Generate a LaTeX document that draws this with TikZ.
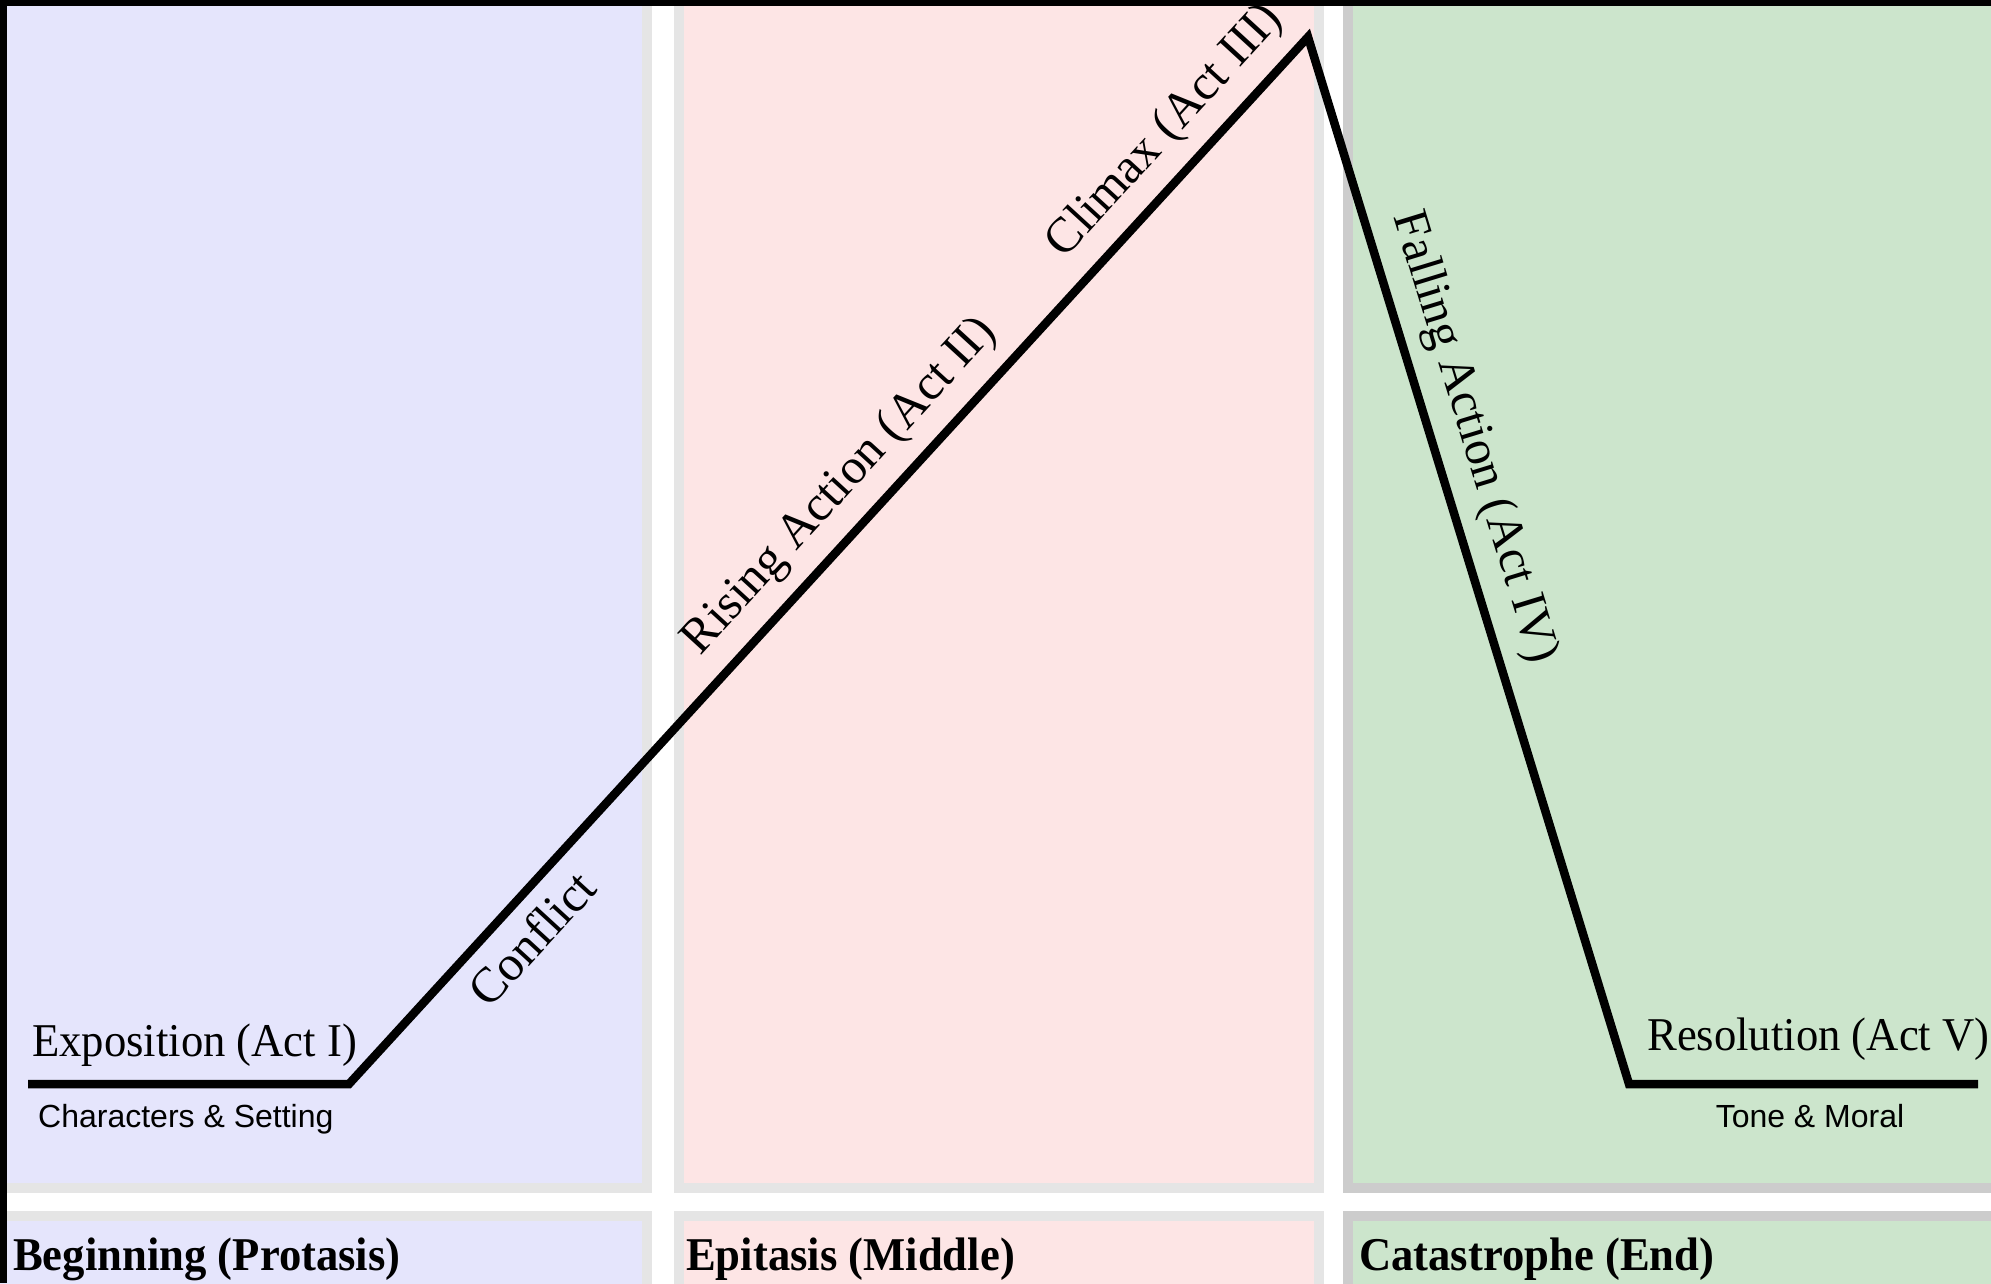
\documentclass[tikz,border=0pt]{standalone}
\usepackage{fontspec}
\setmainfont{Liberation Serif}[FakeStretch=0.95]
\newfontfamily\slopef{Liberation Serif}
\newfontfamily\sansf{Liberation Sans}
\definecolor{pblue}{HTML}{E5E5FC}
\definecolor{ppink}{HTML}{FDE5E5}
\definecolor{pgreen}{HTML}{CCE5CC}
\definecolor{gline}{HTML}{E5E5E5}
\definecolor{gdark}{HTML}{CCCCCC}
\tikzset{
  panel/.style={line width=10pt},
  stage/.style={font=\slopef\fontsize{49.5}{54}\selectfont, inner xsep=0pt, inner ysep=18.5pt},
  flat/.style={font=\fontsize{47}{52}\selectfont, inner sep=0pt},
  note/.style={font=\sansf\fontsize{32}{36}\selectfont, inner sep=0pt},
  ttl/.style={font=\bfseries\fontsize{47}{52}\selectfont, inner sep=0pt},
  arc/.style={line width=8.5pt, line join=miter, line cap=butt}
}
\begin{document}
\begin{tikzpicture}[x=1pt,y=1pt]
\clip (0,0) rectangle (1991,1283);
\fill[white] (0,0) rectangle (1991,1283);
% top row panels
\draw[panel, draw=gline, fill=pblue] (-20,95) rectangle (646.5,1303);
\draw[panel, draw=gline, fill=ppink] (678.5,95) rectangle (1319,1303);
\draw[panel, draw=gdark, fill=pgreen] (1348,95) rectangle (2020,1303);
% bottom row panels
\draw[panel, draw=gline, fill=pblue] (-20,-20) rectangle (646.5,67);
\draw[panel, draw=gline, fill=ppink] (678.5,-20) rectangle (1319,67);
\draw[panel, draw=gdark, fill=pgreen] (1348,-20) rectangle (2020,67);
% black frame strips
\fill[black] (0,1276.5) rectangle (1991,1283);
\fill[black] (0,0) rectangle (7,1283);
% the arc of the plot
\coordinate (s) at (28,199);
\coordinate (c1) at (349,199);
\coordinate (pk) at (1308,1246);
\coordinate (c2) at (1629,199);
\coordinate (e) at (1978,199);
\draw[arc] (s) -- (c1) -- (pk) -- (c2) -- (e);
% labels along the arc
\path (c1) -- (pk)
  node[stage, pos=0.1625, sloped, below] (conf) {Conflict}
  node[stage, pos=0.544, sloped, above] (rise) {Rising Action (Act II)}
  node[stage, pos=0.883, sloped, above] (clim) {Climax (Act III)};
\path (pk) -- (c2)
  node[stage, pos=0.394, sloped, above] (fall) {Falling Action (Act IV)};
\node[flat, anchor=base west] (expo) at (32,227) {Exposition (Act I)};
\node[flat, anchor=base west] (reso) at (1647,233) {Resolution (Act V)};
\node[note, anchor=base west] (chars) at (38,156) {Characters \& Setting};
\node[note, anchor=base] (tone) at (1810,156) {Tone \& Moral};
% section titles
\node[ttl, anchor=base west] (beg) at (13,13) {Beginning (Protasis)};
\node[ttl, anchor=base west] (mid) at (686,13) {Epitasis (Middle)};
\node[ttl, anchor=base west] (fin) at (1359,13) {Catastrophe (End)};
\end{tikzpicture}
\end{document}
